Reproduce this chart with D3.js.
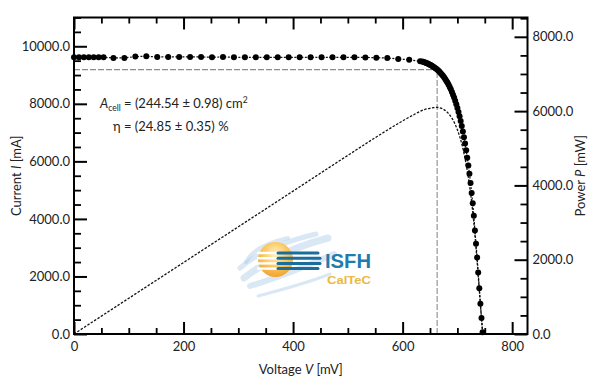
<!DOCTYPE html>
<html lang="en">
<head>
<meta charset="UTF-8">
<title>I-V curve ISFH CalTeC</title>
<script src="https://d3js.org/d3.v7.min.js"></script>
<style>
  body { margin: 0; background: #fff; font-family: Lato, "Open Sans", sans-serif; }
  .tick text { font-family: Lato, "Open Sans", sans-serif; font-size: 13px; fill: #222; }
</style>
</head>
<body>
<div id="chart"></div>
<script>
// measured I-V points (voltage in mV, current in mA)
const voltage = [0, 9, 18, 27, 36, 45, 54, 72, 92, 112, 132, 152, 172, 192, 212, 232, 252, 272, 292, 312,
  332, 352, 372, 392, 412, 432, 452, 472, 492, 512, 532, 552, 572, 592, 612, 632,
  636, 638, 640, 642, 644, 646, 648, 650, 652, 654, 656, 658, 660, 662, 664, 666, 668, 670, 672, 674,
  676, 678, 680, 682, 684, 686, 688, 690, 692, 694, 696, 698, 700, 702, 704, 706, 708, 710, 712, 714,
  716, 718, 720, 722, 724, 726, 728, 730, 732, 734, 736, 738, 740, 742, 744, 746];
const current = [9617, 9617, 9620, 9615, 9618, 9617, 9617, 9596, 9596, 9641, 9652, 9631, 9631, 9631, 9631, 9631, 9617, 9631, 9617, 9617,
  9617, 9617, 9617, 9617, 9617, 9617, 9617, 9617, 9617, 9617, 9612, 9605, 9590, 9560, 9530, 9480,
  9468, 9456, 9443, 9429, 9413, 9397, 9379, 9359, 9338, 9316, 9291, 9265, 9237, 9206, 9173, 9138, 9099, 9058, 9013, 8965,
  8913, 8857, 8797, 8731, 8661, 8585, 8503, 8414, 8319, 8216, 8106, 7986, 7857, 7718, 7567, 7405, 7231, 7042, 6839, 6619,
  6383, 6128, 5852, 5570, 5250, 4900, 4540, 4110, 3600, 3140, 2660, 2140, 1590, 1050, 560, 60];

// power curve (mV, mW)
const powerVoltage = [0, 100, 200, 300, 400, 500, 550, 600, 620, 640, 650, 656, 663, 670, 680, 690, 700, 705, 710, 715, 720, 725, 730, 735, 740, 744, 746];
const power = [0, 962, 1924, 2886, 3847, 4809, 5285, 5736, 5900, 6043, 6075, 6092, 6100, 6080, 5990, 5810, 5500, 5280, 5000, 4650, 4213, 3680, 3000, 2140, 1177, 417, 45];

// maximum power point
const vmpp = 663;
const impp = 9190;

const voltageTicks = [0, 200, 400, 600, 800];
const currentTicks = [0, 2000, 4000, 6000, 8000, 10000];
const powerTicks = [0, 2000, 4000, 6000, 8000];

const width = 600, height = 381;
const margin = {top: 17.5, right: 72.5, bottom: 47, left: 74};

const svg = d3.select("#chart").append("svg")
  .attr("width", width)
  .attr("height", height);

const x = d3.scaleLinear().domain([0, 828]).range([margin.left, width - margin.right]);
const yI = d3.scaleLinear().domain([0, 11000]).range([height - margin.bottom, margin.top]);
const yP = d3.scaleLinear().domain([0, 8520]).range([height - margin.bottom, margin.top]);

const x0 = margin.left, x1 = width - margin.right;
const y0 = height - margin.bottom, y1 = margin.top;

// ---- logo (drawn first so the data sits on top) ----
const defs = svg.append("defs");
const sunGrad = defs.append("radialGradient").attr("id", "sun")
  .attr("cx", "50%").attr("cy", "35%").attr("r", "70%");
sunGrad.append("stop").attr("offset", "0%").attr("stop-color", "#fff3c8");
sunGrad.append("stop").attr("offset", "45%").attr("stop-color", "#fbcd6a");
sunGrad.append("stop").attr("offset", "100%").attr("stop-color", "#f09d28");

const logo = svg.append("g");
const swoosh = [
  "M244,278 C262,264 290,248 328,238",
  "M240,268 C256,254 282,242 316,234",
  "M250,286 C270,280 298,270 334,254",
  "M258,296 C280,290 305,284 330,274",
  "M246,262 C252,250 266,243 288,238"
];
logo.selectAll("path.sw").data(swoosh).enter().append("path")
  .attr("class", "sw")
  .attr("d", d => d)
  .attr("fill", "none")
  .attr("stroke", "#a3c6e6")
  .attr("stroke-width", (d, i) => [7, 5, 6, 3, 4][i])
  .attr("stroke-linecap", "round")
  .attr("opacity", 0.4);

logo.append("circle").attr("cx", 275.5).attr("cy", 259.5).attr("r", 17.5)
  .attr("fill", "url(#sun)");
const stripeY = [253, 258.2, 263.4, 268.6];
logo.selectAll("line.white").data(stripeY).enter().append("line")
  .attr("class", "white")
  .attr("x1", 257).attr("x2", 279)
  .attr("y1", d => d).attr("y2", d => d)
  .attr("stroke", "#fff").attr("stroke-width", 2.4);
logo.selectAll("line.blue").data(stripeY).enter().append("line")
  .attr("class", "blue")
  .attr("x1", 278).attr("x2", (d, i) => [318, 320, 320, 318][i])
  .attr("y1", d => d).attr("y2", d => d)
  .attr("stroke", "#1b6e9c").attr("stroke-width", 3)
  .attr("stroke-linecap", "round");
logo.append("text").attr("x", 325).attr("y", 268)
  .attr("font-family", "'Liberation Sans', Arial, sans-serif")
  .attr("font-weight", "bold").attr("font-size", 21)
  .attr("textLength", 46).attr("lengthAdjust", "spacingAndGlyphs")
  .attr("fill", "#1f7cae").text("ISFH");
logo.append("text").attr("x", 327).attr("y", 284)
  .attr("font-family", "'Liberation Sans', Arial, sans-serif")
  .attr("font-weight", "bold").attr("font-size", 11.5)
  .attr("textLength", 44).attr("lengthAdjust", "spacingAndGlyphs")
  .attr("fill", "#e9b845").text("CalTeC");

// ---- mpp guide lines ----
svg.append("line")
  .attr("x1", x(0)).attr("x2", x(vmpp))
  .attr("y1", yI(impp)).attr("y2", yI(impp))
  .attr("stroke", "#8c8c8c").attr("stroke-width", 1.1)
  .attr("stroke-dasharray", "6,2");
svg.append("line")
  .attr("x1", x(vmpp)).attr("x2", x(vmpp))
  .attr("y1", yI(0)).attr("y2", yI(impp))
  .attr("stroke", "#8c8c8c").attr("stroke-width", 1.1)
  .attr("stroke-dasharray", "6,2");

// ---- power curve ----
const pts = powerVoltage.map((v, i) => [v, power[i]]);
svg.append("path")
  .datum(pts)
  .attr("fill", "none")
  .attr("stroke", "#111")
  .attr("stroke-width", 1.3)
  .attr("stroke-dasharray", "2.5,1.5")
  .attr("d", d3.line().x(d => x(d[0])).y(d => yP(d[1])).curve(d3.curveMonotoneX));

// ---- I-V curve ----
const iv = voltage.map((v, i) => [v, current[i]]);
svg.append("path")
  .datum(iv)
  .attr("fill", "none")
  .attr("stroke", "#111")
  .attr("stroke-width", 1.2)
  .attr("stroke-dasharray", "2,1.5")
  .attr("d", d3.line().x(d => x(d[0])).y(d => yI(d[1])));
svg.selectAll("circle.dot").data(iv).enter().append("circle")
  .attr("class", "dot")
  .attr("cx", d => x(d[0]))
  .attr("cy", d => yI(d[1]))
  .attr("r", 3)
  .attr("fill", "#000");

// ---- axes ----
const fmt = d3.format(".1f");
function styleAxis(g, w) {
  g.select(".domain").remove();
  g.selectAll(".tick line").attr("stroke", "#000").attr("stroke-width", w);
}

svg.append("g").attr("transform", `translate(${x0},0)`)
  .call(d3.axisLeft(yI).tickValues(d3.range(0, 11001, 500).filter(d => d % 2000)).tickSize(-7).tickFormat(""))
  .call(g => styleAxis(g, 1.8));
svg.append("g").attr("transform", `translate(${x0},0)`)
  .call(d3.axisLeft(yI).tickValues(currentTicks).tickSize(-13).tickPadding(4).tickFormat(fmt))
  .call(g => styleAxis(g, 2));

svg.append("g").attr("transform", `translate(${x1},0)`)
  .call(d3.axisRight(yP).tickValues(d3.range(0, 8501, 500).filter(d => d % 2000)).tickSize(-7).tickFormat(""))
  .call(g => styleAxis(g, 1.8));
svg.append("g").attr("transform", `translate(${x1},0)`)
  .call(d3.axisRight(yP).tickValues(powerTicks).tickSize(-13).tickPadding(5).tickFormat(fmt))
  .call(g => styleAxis(g, 2));

const minorV = d3.range(0, 826, 50).filter(d => d % 200);
svg.append("g").attr("transform", `translate(0,${y0})`)
  .call(d3.axisBottom(x).tickValues(minorV).tickSize(-6).tickFormat(""))
  .call(g => styleAxis(g, 1.8));
svg.append("g").attr("transform", `translate(0,${y0})`)
  .call(d3.axisBottom(x).tickValues(voltageTicks).tickSize(-12).tickPadding(8))
  .call(g => styleAxis(g, 2));
svg.append("g").attr("transform", `translate(0,${y1})`)
  .call(d3.axisTop(x).tickValues(minorV).tickSize(-6).tickFormat(""))
  .call(g => styleAxis(g, 1.8));
svg.append("g").attr("transform", `translate(0,${y1})`)
  .call(d3.axisTop(x).tickValues(voltageTicks).tickSize(-12).tickFormat(""))
  .call(g => styleAxis(g, 2));

// frame
svg.append("rect")
  .attr("x", x0).attr("y", y1)
  .attr("width", x1 - x0).attr("height", y0 - y1)
  .attr("fill", "none").attr("stroke", "#000").attr("stroke-width", 2);

// ---- axis titles ----
function title(sel, parts) {
  parts.forEach(p => sel.append("tspan").attr("font-style", p[1] ? "italic" : null).text(p[0]));
}
const tx = svg.append("text").attr("x", (x0 + x1) / 2).attr("y", 374)
  .attr("text-anchor", "middle").attr("font-size", 13).attr("fill", "#222");
title(tx, [["Voltage ", 0], ["V", 1], [" [mV]", 0]]);

const tl = svg.append("text").attr("transform", `translate(21,${(y0 + y1) / 2}) rotate(-90)`)
  .attr("text-anchor", "middle").attr("font-size", 13).attr("fill", "#222");
title(tl, [["Current ", 0], ["I", 1], [" [mA]", 0]]);

const tr = svg.append("text").attr("transform", `translate(585,${(y0 + y1) / 2}) rotate(-90)`)
  .attr("text-anchor", "middle").attr("font-size", 13).attr("fill", "#222");
title(tr, [["Power ", 0], ["P", 1], [" [mW]", 0]]);

// ---- annotation ----
const a1 = svg.append("text").attr("x", 100).attr("y", 108).attr("font-size", 13).attr("fill", "#222");
a1.append("tspan").attr("font-style", "italic").text("A");
a1.append("tspan").attr("font-size", 8.5).attr("dy", 3).text("cell");
a1.append("tspan").attr("dy", -3).text(" = (244.54 ± 0.98) cm");
a1.append("tspan").attr("font-size", 8.5).attr("dy", -5).text("2");

svg.append("text").attr("x", 113).attr("y", 131).attr("font-size", 13).attr("fill", "#222")
  .text("η = (24.85 ± 0.35) %");
</script>
</body>
</html>
